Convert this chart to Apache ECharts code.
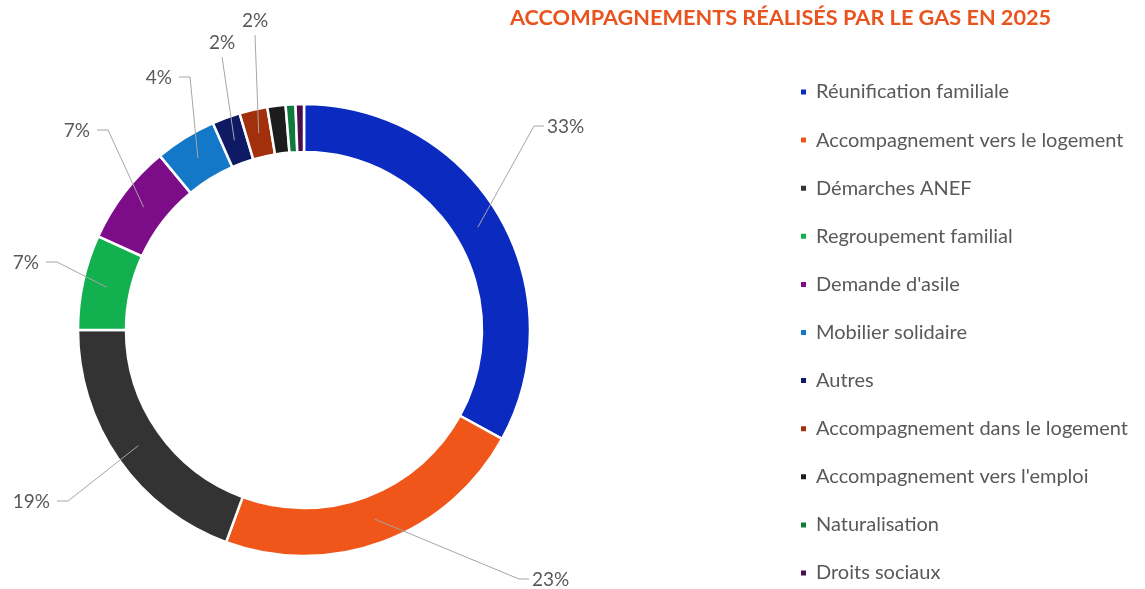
<!DOCTYPE html>
<html>
<head>
<meta charset="utf-8">
<script src="https://cdn.jsdelivr.net/npm/echarts@6/dist/echarts.min.js"></script>
<style>
html,body{margin:0;padding:0;background:#fff;}
#chart{width:1145px;height:589px;}
</style>
</head>
<body>
<div id="chart"></div>
<script>
const categories = [
  "Réunification familiale",
  "Accompagnement vers le logement",
  "Démarches ANEF",
  "Regroupement familial",
  "Demande d'asile",
  "Mobilier solidaire",
  "Autres",
  "Accompagnement dans le logement",
  "Accompagnement vers l'emploi",
  "Naturalisation",
  "Droits sociaux"
];
const values = [33.0, 22.6, 19.4, 6.8, 7.2, 4.4, 2.0, 2.0, 1.3, 0.7, 0.6];
const colors = ["#0B2BC0", "#F0561A", "#333333", "#12B04F", "#7D0C88", "#1478C8", "#0E1A63", "#A3300C", "#1C1C1C", "#0F7A3B", "#4A0E4F"];
const labelMin = 1.5;

const chart = echarts.init(document.getElementById('chart'), null, {renderer: 'canvas'});
const FONT = 'Lato, "Open Sans", sans-serif';

// Excel-style label placement (label anchor spots, not marks)
const labelSpots = {
  0: {x: 547, y: 127, align: 'left'},
  1: {x: 532, y: 580, align: 'left'},
  2: {x: 50,  y: 502, align: 'right'},
  3: {x: 39,  y: 263, align: 'right'},
  4: {x: 90,  y: 131, align: 'right'},
  5: {x: 172, y: 78,  align: 'right'},
  6: {x: 222, y: 43,  align: 'center'},
  7: {x: 255, y: 21,  align: 'center'}
};

function layoutLabel(params) {
  const spot = labelSpots[params.dataIndex];
  if (!spot) return {};
  return {x: spot.x, y: spot.y, align: spot.align, verticalAlign: 'middle'};
}

chart.setOption({
  animation: false,
  title: {
    text: 'ACCOMPAGNEMENTS RÉALISÉS PAR LE GAS EN 2025',
    left: 505, top: 2,
    textStyle: {color: '#E9541E', fontSize: 21.7, fontWeight: 'bold', fontFamily: FONT}
  },
  legend: {
    orient: 'vertical',
    left: 794, top: 77,
    itemWidth: 7, itemHeight: 7, itemGap: 28.1,
    icon: 'rect',
    textStyle: {color: '#595959', fontSize: 20, lineHeight: 20, fontFamily: FONT, padding: [0,0,0,4]},
    data: categories
  },
  series: [{
    type: 'pie',
    center: [304, 330],
    radius: [178, 226],
    startAngle: 90,
    clockwise: true,
    avoidLabelOverlap: false,
    itemStyle: {borderColor: '#fff', borderWidth: 2.5},
    label: {
      show: true,
      color: '#595959', fontSize: 19, fontFamily: FONT,
      formatter: p => Math.round(p.value) + '%'
    },
    labelLine: {show: false},
    labelLayout: layoutLabel,
    data: categories.map((c, i) => ({
      name: c, value: values[i],
      itemStyle: {color: colors[i]},
      label: {show: values[i] >= labelMin}
    }))
  }]
});

// Leader lines from the middle of each ring segment (library layout) to its label
const pieData = chart.getModel().getSeriesByIndex(0).getData();
const leaders = [];
Object.keys(labelSpots).forEach(k => {
  const i = +k, spot = labelSpots[i];
  const L = pieData.getItemLayout(i);
  const mid = (L.startAngle + L.endAngle) / 2;
  const rm = (L.r + L.r0) / 2;
  const a = [L.cx + Math.cos(mid) * rm, L.cy + Math.sin(mid) * rm];
  let pts;
  if (spot.align === 'left') {
    pts = [a, [spot.x - 13, spot.y - 1], [spot.x - 3, spot.y - 1]];
  } else if (spot.align === 'right') {
    pts = [a, [spot.x + 18, spot.y - 1], [spot.x + 7, spot.y - 1]];
  } else {
    pts = [a, [spot.x, spot.y + 14]];
  }
  leaders.push({
    type: 'polyline', z: 100, silent: true,
    shape: {points: pts},
    style: {stroke: '#A6A6A6', lineWidth: 1, fill: null}
  });
});
chart.setOption({graphic: {elements: leaders}});
</script>
</body>
</html>
